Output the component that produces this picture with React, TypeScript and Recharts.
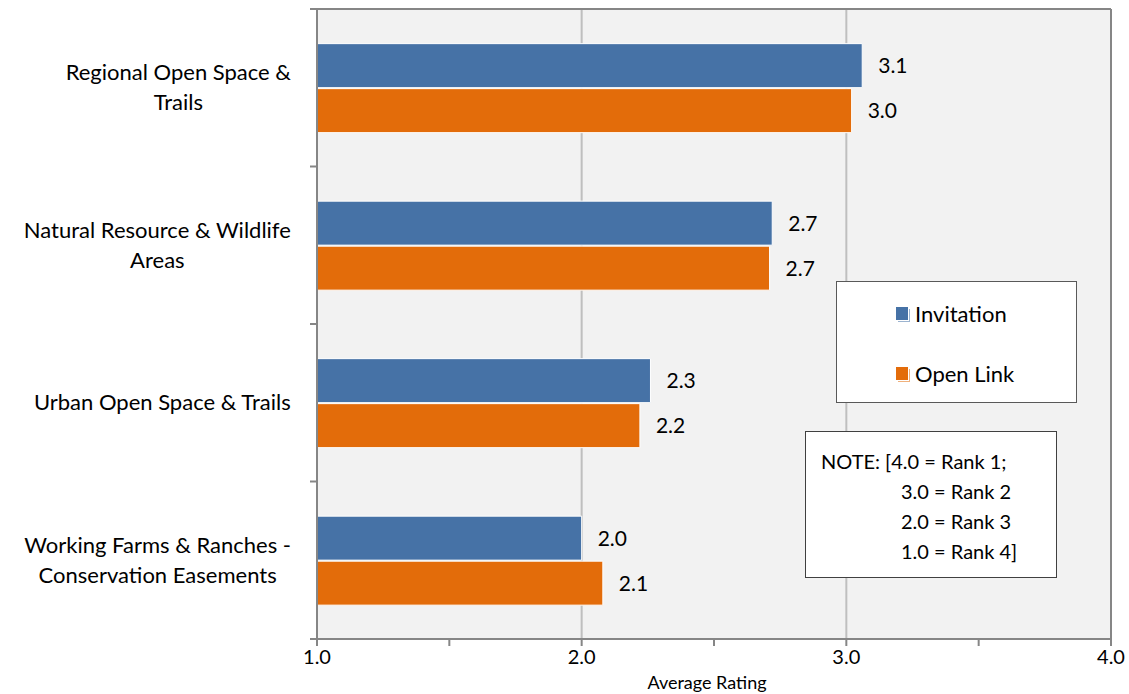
import React from 'react';
import { BarChart, Bar, XAxis, YAxis, CartesianGrid, Legend, LabelList } from 'recharts';

const categories = [
    'Regional Open Space &\nTrails',
    'Natural Resource & Wildlife\nAreas',
    'Urban Open Space & Trails',
    'Working Farms & Ranches -\nConservation Easements',
];
const invitation = [3.06, 2.72, 2.26, 2.0];
const openLink = [3.02, 2.71, 2.22, 2.08];
const xTicks = [1, 1.5, 2, 2.5, 3, 3.5, 4];
const noteLines = ['NOTE: [4.0 = Rank 1;', '3.0 = Rank 2', '2.0 = Rank 3', '1.0 = Rank 4]'];

const data = categories.map((name, i) => ({ name, invitation: invitation[i], openLink: openLink[i] }));

const W = 1129;
const H = 694;
const TOP = 9;
const RIGHT = 18;
const X_AXIS_H = 55;
const Y_AXIS_W = 317;
const BAND = (H - TOP - X_AXIS_H) / categories.length;
const FONT = 'Lato, "Open Sans", sans-serif';
const CAT_SIZE = 22;
const AXIS = '#868686';
const BLUE = '#4672A6';
const ORANGE = '#E36C0A';

let ctx: CanvasRenderingContext2D | null = null;
const measure = (s: string, size: number) => {
    if (!ctx) ctx = document.createElement('canvas').getContext('2d');
    if (!ctx) return s.length * size * 0.5;
    ctx.font = `${size}px Lato`;
    return ctx.measureText(s).width;
};

// category label, centred line by line, plus boundary tick marks between bands
const CategoryTick = (props: any) => {
    const { x, y, payload, index } = props;
    const lines = String(payload.value).split('\n');
    const maxW = Math.max(...lines.map((l) => measure(l, CAT_SIZE)));
    const cx = x - 26 - maxW / 2;
    const top = y - ((lines.length - 1) * 30) / 2;
    return (
        <g>
            <line x1={x - 7} x2={x} y1={y - BAND / 2} y2={y - BAND / 2} stroke={AXIS} strokeWidth={2} />
            {index === categories.length - 1 && (
                <line x1={x - 7} x2={x} y1={y + BAND / 2} y2={y + BAND / 2} stroke={AXIS} strokeWidth={2} />
            )}
            <text textAnchor="middle" fontSize={CAT_SIZE} fontFamily={FONT} fill="#000">
                {lines.map((l, i) => (
                    <tspan key={i} x={cx} y={top + i * 30} dy="0.35em">{l}</tspan>
                ))}
            </text>
        </g>
    );
};

const LegendBox = (props: any) => {
    const items = props.payload || [];
    return (
        <div style={{
            width: 241, height: 122, boxSizing: 'border-box', border: '1.5px solid #595959',
            background: '#fff', position: 'relative', fontFamily: FONT, fontSize: 22, color: '#000',
        }}>
            {items.map((it: any, i: number) => (
                <div key={i} style={{ position: 'absolute', left: 59, top: 16 + i * 60, display: 'flex', alignItems: 'center', height: 30 }}>
                    <span style={{
                        display: 'inline-block', width: 12, height: 13, background: it.color,
                        boxShadow: `1px 1px 0 #fff, 2px 2px 0 ${it.color}88`, marginRight: 7,
                    }} />
                    <span>{it.value}</span>
                </div>
            ))}
        </div>
    );
};

export default function App() {
    return (
        <div style={{ position: 'absolute', left: 0, top: 0, width: W, height: H, background: '#fff' }}>
            <BarChart
                width={W}
                height={H}
                data={data}
                layout="vertical"
                margin={{ top: TOP, right: RIGHT, bottom: 0, left: 0 }}
                barCategoryGap="22%"
                barGap={1}
            >
                <CartesianGrid horizontal={false} verticalValues={[2, 3]} stroke="#bfbfbf" strokeWidth={2} fill="#f2f2f2" />
                {/* plot frame along the top and right edges */}
                <CartesianGrid
                    horizontalCoordinatesGenerator={() => [TOP]}
                    verticalCoordinatesGenerator={() => [W - RIGHT]}
                    stroke={AXIS}
                    strokeWidth={2}
                    fill="none"
                />
                <XAxis
                    type="number"
                    domain={[1, 4]}
                    ticks={xTicks}
                    interval={0}
                    height={X_AXIS_H}
                    tickFormatter={(v: number) => (Number.isInteger(v) ? v.toFixed(1) : '')}
                    tick={{ fill: '#000', fontSize: 20, fontFamily: FONT }}
                    tickSize={7}
                    tickMargin={4}
                    stroke={AXIS}
                    axisLine={{ stroke: AXIS, strokeWidth: 2 }}
                    tickLine={{ stroke: AXIS, strokeWidth: 2 }}
                    label={{ value: 'Average Rating', position: 'insideBottom', offset: 5, dx: -7, fill: '#000', fontSize: 18, fontFamily: FONT }}
                />
                <YAxis
                    type="category"
                    dataKey="name"
                    width={Y_AXIS_W}
                    interval={0}
                    tickSize={0}
                    tickMargin={0}
                    tickLine={false}
                    tick={<CategoryTick />}
                    axisLine={{ stroke: AXIS, strokeWidth: 2 }}
                />
                <Legend
                    layout="horizontal"
                    align="center"
                    verticalAlign="middle"
                    content={<LegendBox />}
                    wrapperStyle={{ position: 'absolute', left: 836, top: 281, width: 241, height: 122 }}
                />
                <Bar dataKey="invitation" name="Invitation" fill={BLUE} stroke="#fff" strokeWidth={1} isAnimationActive={false}>
                    <LabelList dataKey="invitation" position="right" offset={16} formatter={(v: any) => Number(v).toFixed(1)} fill="#000" fontSize={21} fontFamily={FONT} />
                </Bar>
                <Bar dataKey="openLink" name="Open Link" fill={ORANGE} stroke="#fff" strokeWidth={1} isAnimationActive={false}>
                    <LabelList dataKey="openLink" position="right" offset={16} formatter={(v: any) => Number(v).toFixed(1)} fill="#000" fontSize={21} fontFamily={FONT} />
                </Bar>
            </BarChart>
            <div style={{
                position: 'absolute', left: 805, top: 431, width: 252, height: 147, boxSizing: 'border-box',
                border: '1.5px solid #404040', background: '#fff', fontFamily: FONT, fontSize: 20, color: '#000',
            }}>
                {noteLines.map((l, i) => (
                    <div key={i} style={{ position: 'absolute', left: i === 0 ? 15 : 95, top: 14 + i * 30, lineHeight: '30px', whiteSpace: 'nowrap' }}>{l}</div>
                ))}
            </div>
        </div>
    );
}
